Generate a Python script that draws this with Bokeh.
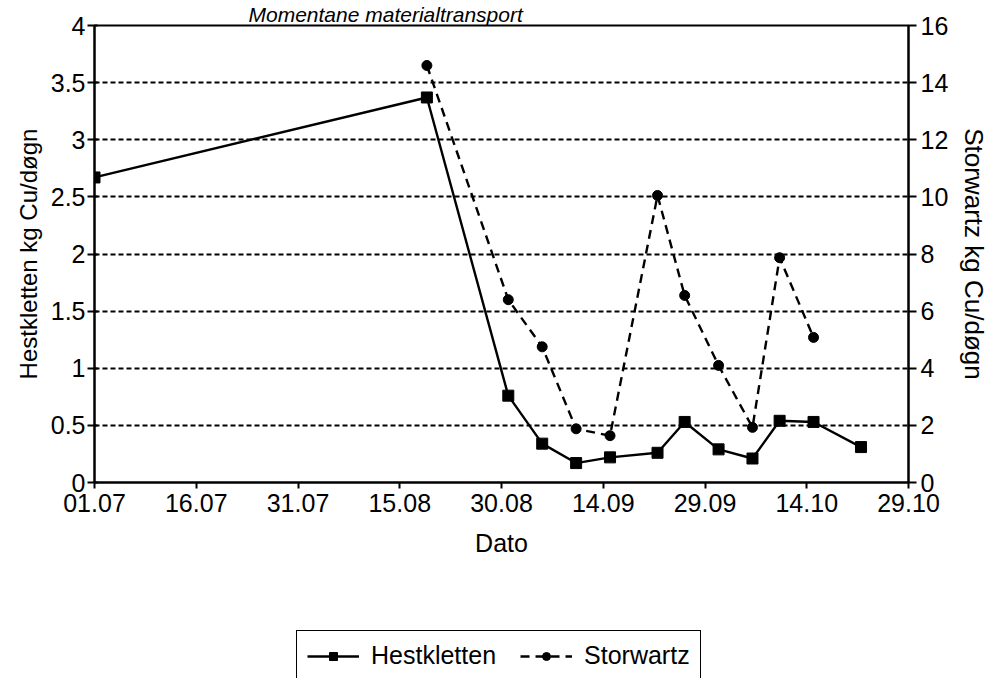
import datetime
from bokeh.plotting import figure
from bokeh.layouts import column
from bokeh.models import Range1d, LinearAxis, FixedTicker, Legend, LegendItem
from bokeh.embed import file_html
from bokeh.resources import INLINE

# ---- data ----
x_tick_labels = ["01.07", "16.07", "31.07", "15.08", "30.08", "14.09", "29.09", "14.10", "29.10"]
left_tick_labels = ["0", "0.5", "1", "1.5", "2", "2.5", "3", "3.5", "4"]
right_tick_labels = ["0", "2", "4", "6", "8", "10", "12", "14", "16"]

hest_dates = ["01.07", "19.08", "31.08", "05.09", "10.09", "15.09", "22.09",
              "26.09", "01.10", "06.10", "10.10", "15.10", "22.10"]
hest_values = [2.67, 3.37, 0.76, 0.34, 0.17, 0.22, 0.26, 0.53, 0.29, 0.21, 0.54, 0.53, 0.31]

stor_dates = ["19.08", "31.08", "05.09", "10.09", "15.09", "22.09",
              "26.09", "01.10", "06.10", "10.10", "15.10"]
stor_values = [14.6, 6.4, 4.75, 1.88, 1.64, 10.05, 6.55, 4.1, 1.93, 7.87, 5.08]

YEAR = 1996
START = datetime.date(YEAR, 7, 1)


def day(s):
    d, m = s.split(".")
    return (datetime.date(YEAR, int(m), int(d)) - START).days


hx = [day(s) for s in hest_dates]
sx = [day(s) for s in stor_dates]
xticks = [day(s) for s in x_tick_labels]
lticks = [float(v) for v in left_tick_labels]
rticks = [float(v) for v in right_tick_labels]

FONT = "Liberation Sans"

p = figure(frame_width=814, frame_height=457,
           x_range=Range1d(xticks[0], xticks[-1]), y_range=Range1d(lticks[0], lticks[-1]),
           output_backend="svg", toolbar_location=None,
           min_border_left=94, min_border_right=78, min_border_top=23, min_border_bottom=90,
           background_fill_color="white", border_fill_color="white")
p.extra_y_ranges = {"r": Range1d(rticks[0], rticks[-1])}

p.title.text = "Momentane materialtransport"
p.title.align = "left"
p.title.offset = 154
p.title.text_font = FONT
p.title.text_font_size = "21px"
p.title.text_font_style = "italic"
p.title.text_color = "black"
p.title.standoff = 0

p.outline_line_color = "black"
p.outline_line_width = 2

# grid
p.xgrid.visible = False
p.ygrid.ticker = FixedTicker(ticks=lticks)
p.ygrid.grid_line_color = "black"
p.ygrid.grid_line_width = 2
p.ygrid.grid_line_dash = "5 3"

# x axis
xa = p.xaxis[0]
xa.ticker = FixedTicker(ticks=xticks)
xa.major_label_overrides = {t: lab for t, lab in zip(xticks, x_tick_labels)}
xa.axis_label = "Dato"

# left axis
ya = p.yaxis[0]
ya.ticker = FixedTicker(ticks=lticks)
ya.major_label_overrides = {t: lab for t, lab in zip(lticks, left_tick_labels)}
ya.axis_label = "Hestkletten kg Cu/døgn"

# right axis
ra = LinearAxis(y_range_name="r", ticker=FixedTicker(ticks=rticks))
ra.major_label_overrides = {t: lab for t, lab in zip(rticks, right_tick_labels)}
ra.axis_label = "Storwartz kg Cu/døgn"
p.add_layout(ra, "right")

for ax in (xa, ya, ra):
    ax.axis_line_color = "black"
    ax.axis_line_width = 2
    ax.major_tick_line_color = "black"
    ax.major_tick_line_width = 2
    ax.minor_tick_line_color = None
    ax.major_label_text_font = FONT
    ax.major_label_text_font_size = "25px"
    ax.major_label_text_color = "black"
    ax.axis_label_text_font = FONT
    ax.axis_label_text_font_style = "normal"
    ax.axis_label_text_color = "black"

xa.major_tick_out = 6
xa.major_tick_in = 0
xa.major_label_standoff = 5
xa.axis_label_text_font_size = "25px"
xa.axis_label_standoff = 14

ya.major_tick_out = 7
ya.major_tick_in = 3
ya.major_label_standoff = 2
ya.axis_label_text_font_size = "24px"
ya.axis_label_standoff = 6

ra.major_tick_out = 8
ra.major_tick_in = 0
ra.major_label_standoff = 4
ra.axis_label_text_font_size = "26px"
ra.axis_label_standoff = 8

H_STYLE = dict(line_color="black", line_width=2.4)
S_STYLE = dict(line_color="black", line_width=2.4, line_dash="9 6")

# series
p.line(hx, hest_values, **H_STYLE)
p.scatter(hx, hest_values, marker="square", size=11, fill_color="black", line_color="black")
p.line(sx, stor_values, y_range_name="r", **S_STYLE)
p.scatter(sx, stor_values, y_range_name="r", marker="circle", size=10,
          fill_color="black", line_color="black")

# legend strip below the chart (its renderers sit outside the strip's ranges, so only
# the legend shows)
q = figure(width=986, height=106, x_range=Range1d(0, 1), y_range=Range1d(0, 1),
           output_backend="svg", toolbar_location=None, x_axis_type=None, y_axis_type=None,
           min_border=0, outline_line_color=None,
           background_fill_color="white", border_fill_color="white")
q.grid.visible = False
off = [-5.0]
lh = q.line(off, off, **H_STYLE)
mh = q.scatter(off, off, marker="square", size=11, fill_color="black", line_color="black")
ls = q.line(off, off, **S_STYLE)
ms = q.scatter(off, off, marker="circle", size=10, fill_color="black", line_color="black")

legend = Legend(items=[LegendItem(label="Hestkletten", renderers=[lh, mh]),
                       LegendItem(label="Storwartz", renderers=[ls, ms])],
                orientation="horizontal", location=(202, -3))
legend.label_text_font = FONT
legend.label_text_font_size = "25px"
legend.label_text_color = "black"
legend.glyph_width = 52
legend.glyph_height = 20
legend.label_standoff = 12
legend.spacing = 24
legend.padding = 10
legend.margin = 0
legend.border_line_color = "black"
legend.border_line_alpha = 1
legend.border_line_width = 1.5
legend.background_fill_color = "white"
legend.background_fill_alpha = 1
q.add_layout(legend)

layout = column(p, q, spacing=0)
open("out.html", "w").write(file_html(layout, INLINE))
